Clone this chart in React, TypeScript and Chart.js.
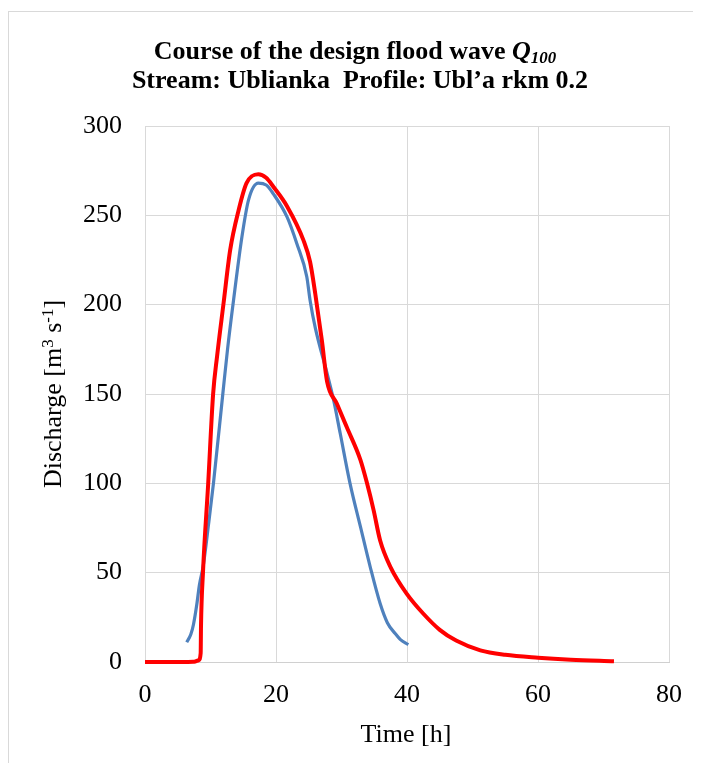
import React, { useEffect, useRef } from "react";
import { Chart, registerables } from "chart.js";

Chart.register(...registerables);

// Red series (design flood wave Q100)
const redTime = [0, 3, 6, 7.5, 8.2, 8.5, 8.55, 8.85, 9.65, 10.4, 11.0, 12.0, 13.0, 14.3, 15.5, 17.3, 18.5, 19.6, 21.7, 24.2, 25.2, 26.0, 27.0, 27.8, 29.3, 30.8, 32.9, 33.9, 34.9, 35.9, 37.5, 40, 42.5, 45, 47.5, 51.2, 55, 60, 65, 71.6];
const redQ = [0, 0, 0, 0.2, 1, 5, 20, 50, 100, 150, 171, 201, 230.5, 253, 268, 273, 271, 266, 255, 236, 224, 206, 180, 157, 144.5, 131.5, 113, 100, 85, 68, 53, 38, 27, 18, 12, 6.5, 4, 2.4, 1.3, 0.4];

// Blue series
const blueTime = [6.37, 7.0, 7.4, 7.9, 8.3, 8.9, 9.7, 10.45, 11.88, 12.6, 13.5, 14.8, 15.8, 17.3, 18.5, 19.6, 21.7, 23.2, 24.7, 25.2, 26.0, 27.8, 28.8, 29.8, 31.3, 32.9, 34.4, 35.9, 37.0, 38.2, 39.0, 40.2];
const blueQ = [11, 15.5, 21, 32, 43, 54, 77, 100, 150, 175, 202, 238, 258.5, 268, 267, 262, 249, 234, 215.6, 202.5, 187, 161.5, 146.5, 128, 100, 75.6, 53, 32.7, 22, 15.9, 12.5, 9.7];

const xTicks = [0, 20, 40, 60, 80];
const yTicks = [0, 50, 100, 150, 200, 250, 300];

const FONT = '"Liberation Serif", "Times New Roman", serif';

export default function App() {
  const ref = useRef<HTMLCanvasElement>(null);

  useEffect(() => {
    const chart = new Chart(ref.current!, {
      type: "scatter",
      data: {
        datasets: [
          {
            label: "Q100",
            data: redTime.map((x, i) => ({ x, y: redQ[i] })),
            showLine: true,
            borderColor: "#FF0000",
            backgroundColor: "#FF0000",
            borderWidth: 4,
            pointRadius: 0,
            cubicInterpolationMode: "monotone",
            fill: false,
            clip: false,
          } as any,
          {
            label: "Blue",
            data: blueTime.map((x, i) => ({ x, y: blueQ[i] })),
            showLine: true,
            borderColor: "#4F81BD",
            backgroundColor: "#4F81BD",
            borderWidth: 3.2,
            pointRadius: 0,
            cubicInterpolationMode: "monotone",
            fill: false,
            clip: false,
          } as any,
        ],
      },
      options: {
        responsive: false,
        animation: false,
        layout: { padding: { left: 57, top: 118, right: 24, bottom: 21 } },
        plugins: {
          legend: { display: false },
          title: { display: false },
          tooltip: { enabled: false },
        },
        scales: {
          x: {
            type: "linear",
            min: 0,
            max: 80,
            afterBuildTicks: (s: any) => {
              s.ticks = xTicks.map((v) => ({ value: v }));
            },
            afterFit: (s: any) => {
              s.height = 80;
              s.paddingLeft = 0;
              s.paddingRight = 0;
            },
            grid: { color: "#d9d9d9", lineWidth: 1, drawTicks: false },
            border: { color: "#d0d0d0", width: 1 },
            ticks: {
              font: { family: FONT, size: 26 },
              color: "#000",
              padding: 18,
              maxRotation: 0,
            },
          },
          y: {
            type: "linear",
            min: 0,
            max: 300,
            afterBuildTicks: (s: any) => {
              s.ticks = yTicks.map((v) => ({ value: v }));
            },
            afterFit: (s: any) => {
              s.width = 80;
              s.paddingTop = 0;
              s.paddingBottom = 0;
            },
            grid: { color: "#d9d9d9", lineWidth: 1, drawTicks: false },
            border: { color: "#d9d9d9", width: 1 },
            ticks: {
              font: { family: FONT, size: 26 },
              color: "#000",
              padding: 23,
            },
          },
        },
      },
    });
    return () => chart.destroy();
  }, []);

  const textBase: React.CSSProperties = {
    position: "absolute",
    fontFamily: FONT,
    color: "#000",
    whiteSpace: "pre",
    textAlign: "center",
  };

  return (
    <div style={{ position: "relative", width: 685, height: 755, background: "#fff" }}>
      <div style={{ position: "absolute", left: 0, top: 3, width: 693, height: 1, background: "#d9d9d9" }} />
      <div style={{ position: "absolute", left: 0, top: 3, width: 1, height: 760, background: "#d9d9d9" }} />
      <canvas ref={ref} width={685} height={755} style={{ position: "absolute", left: 0, top: 0 }} />
      <div style={{ ...textBase, left: 47, width: 600, top: 27.5, lineHeight: "30px", fontSize: 26, fontWeight: "bold" }}>
        {"Course of the design flood wave "}
        <i>
          Q<sub style={{ fontSize: "0.65em", lineHeight: 0, verticalAlign: "-0.25em" }}>100</sub>
        </i>
      </div>
      <div style={{ ...textBase, left: 52, width: 600, top: 56.5, lineHeight: "30px", fontSize: 26, fontWeight: "bold" }}>
        {"Stream: Ublianka  Profile: Ubl\u2019a rkm 0.2"}
      </div>
      <div style={{ ...textBase, left: 248, width: 300, top: 711, lineHeight: "30px", fontSize: 26 }}>
        {"Time [h]"}
      </div>
      <div
        style={{
          ...textBase,
          left: 45 - 150,
          top: 386 - 16,
          width: 300,
          height: 32,
          lineHeight: "32px",
          fontSize: 26,
          transform: "rotate(-90deg)",
        }}
      >
        {"Discharge [m"}
        <sup style={{ fontSize: "0.65em", lineHeight: 0, verticalAlign: "0.5em" }}>3</sup>
        {" s"}
        <sup style={{ fontSize: "0.65em", lineHeight: 0, verticalAlign: "0.5em" }}>-1</sup>
        {"]"}
      </div>
    </div>
  );
}
